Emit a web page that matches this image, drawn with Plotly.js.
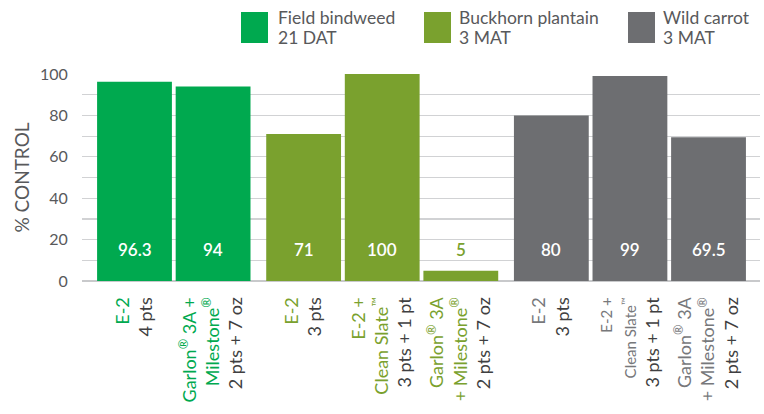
<!DOCTYPE html>
<html>
<head>
<meta charset="utf-8">
<script src="https://cdn.plot.ly/plotly-3.0.1.min.js"></script>
<style>html,body{margin:0;padding:0;background:#fff;}#chart{width:764px;height:414px;}</style>
</head>
<body>
<div id="chart"></div>
<script>
// ---- data ----
const groups = ["Field bindweed", "Buckhorn plantain", "Wild carrot"];
const groupTiming = ["21 DAT", "3 MAT", "3 MAT"];
const groupColors = ["#00A94F", "#7AA12E", "#6D6E71"];
const groupLabelColors = ["#00A94F", "#7AA12E", "#77787B"];
const products = [
  "E-2",
  "Garlon<sup>®</sup> 3A +<br>Milestone<sup>®</sup>",
  "E-2",
  "E-2 +<br>Clean Slate<sup>™</sup>",
  "Garlon<sup>®</sup> 3A<br>+ Milestone<sup>®</sup>",
  "E-2",
  "E-2 +<br>Clean Slate<sup>™</sup>",
  "Garlon<sup>®</sup> 3A<br>+ Milestone<sup>®</sup>"
];
const rates = ["4 pts", "2 pts + 7 oz", "3 pts", "3 pts + 1 pt", "2 pts + 7 oz", "3 pts", "3 pts + 1 pt", "2 pts + 7 oz"];
const groupOf = [0, 0, 1, 1, 1, 2, 2, 2];
const values = [96.3, 94, 71, 100, 5, 80, 99, 69.5];
const valueLabels = ["96.3", "94", "71", "100", "5", "80", "99", "69.5"];

// ---- layout helpers ----
const FONT = "Lato, 'DejaVu Sans', sans-serif";
const groupGap = 0.152;
const xpos = values.map((v, i) => i + groupOf[i] * groupGap);
const plotL = 82, plotR = 760, plotT = 74, plotB = 281;
const W = 764, H = 414;
const px = x => (x - plotL) / (plotR - plotL);
const py = y => (plotB - y) / (plotB - plotT);

const traces = groups.map((g, gi) => {
  const idx = values.map((v, i) => i).filter(i => groupOf[i] === gi);
  return {
    type: "bar",
    name: g,
    x: idx.map(i => xpos[i]),
    y: idx.map(i => values[i]),
    width: 0.952,
    marker: {color: groupColors[gi]},
    showlegend: false,
    hoverinfo: "skip"
  };
});

const ticktext = products.map((p, i) => {
  const c = groupLabelColors[groupOf[i]];
  const small = (groupOf[i] === 2 && i === 6);
  const lines = p.split("<br>").map(l =>
    `<span style="color:${c}${small ? ';font-size:15px' : ''}">${l}</span>`);
  return lines.join("<br>") + "<br>" + rates[i];
});

const annotations = values.map((v, i) => ({
  x: xpos[i], y: 15, xref: "x", yref: "y",
  text: valueLabels[i], showarrow: false,
  font: {family: FONT, size: 17, color: v > 20 ? "#ffffff" : groupColors[groupOf[i]], weight: 600},
  yanchor: "middle"
}));

const legendSwatchX = [241, 424, 628];
const legendTextX = [276, 457, 661];
const shapes = [];
groups.forEach((g, gi) => {
  shapes.push({
    type: "rect", xref: "paper", yref: "paper",
    x0: px(legendSwatchX[gi]), x1: px(legendSwatchX[gi] + 27),
    y0: py(43), y1: py(12),
    fillcolor: groupColors[gi], line: {width: 0}
  });
  [g, groupTiming[gi]].forEach((t, li) => {
    annotations.push({
      xref: "paper", yref: "paper",
      x: px(legendTextX[gi]), y: py(li === 0 ? 18 : 37),
      xanchor: "left", yanchor: "middle", align: "left",
      text: t, showarrow: false,
      font: {family: FONT, size: 17.5, color: "#58595B"}
    });
  });
});

const layout = {
  width: W, height: H,
  margin: {l: plotL, r: W - plotR, t: plotT, b: H - plotB, pad: 0},
  paper_bgcolor: "#ffffff", plot_bgcolor: "#ffffff",
  font: {family: FONT, color: "#444"},
  barmode: "overlay",
  xaxis: {
    type: "linear",
    range: [-0.668, 7.959],
    tickmode: "array", tickvals: xpos, ticktext: ticktext,
    tickangle: -90,
    tickfont: {family: FONT, size: 18, color: "#3F3F41"},
    showgrid: false, zeroline: false, showline: false,
    ticks: "outside", ticklen: 8, tickcolor: "rgba(0,0,0,0)",
    automargin: false, fixedrange: true
  },
  yaxis: {
    range: [0, 100],
    tickvals: [0, 20, 40, 60, 80, 100],
    tickfont: {family: FONT, size: 16, color: "#58595B"},
    showgrid: true, gridcolor: "#D1D2D4", gridwidth: 1.2,
    minor: {dtick: 10, tick0: 0, showgrid: true, gridcolor: "#D1D2D4", gridwidth: 1.2},
    zeroline: true, zerolinecolor: "#C8C9CB", zerolinewidth: 1.5,
    ticks: "outside", ticklen: 10, tickcolor: "rgba(0,0,0,0)",
    title: {text: "% CONTROL", font: {family: FONT, size: 19, color: "#58595B"}, standoff: 5},
    automargin: false, fixedrange: true
  },
  shapes: shapes,
  annotations: annotations
};

Plotly.newPlot("chart", traces, layout, {displayModeBar: false, staticPlot: true});
</script>
</body>
</html>
